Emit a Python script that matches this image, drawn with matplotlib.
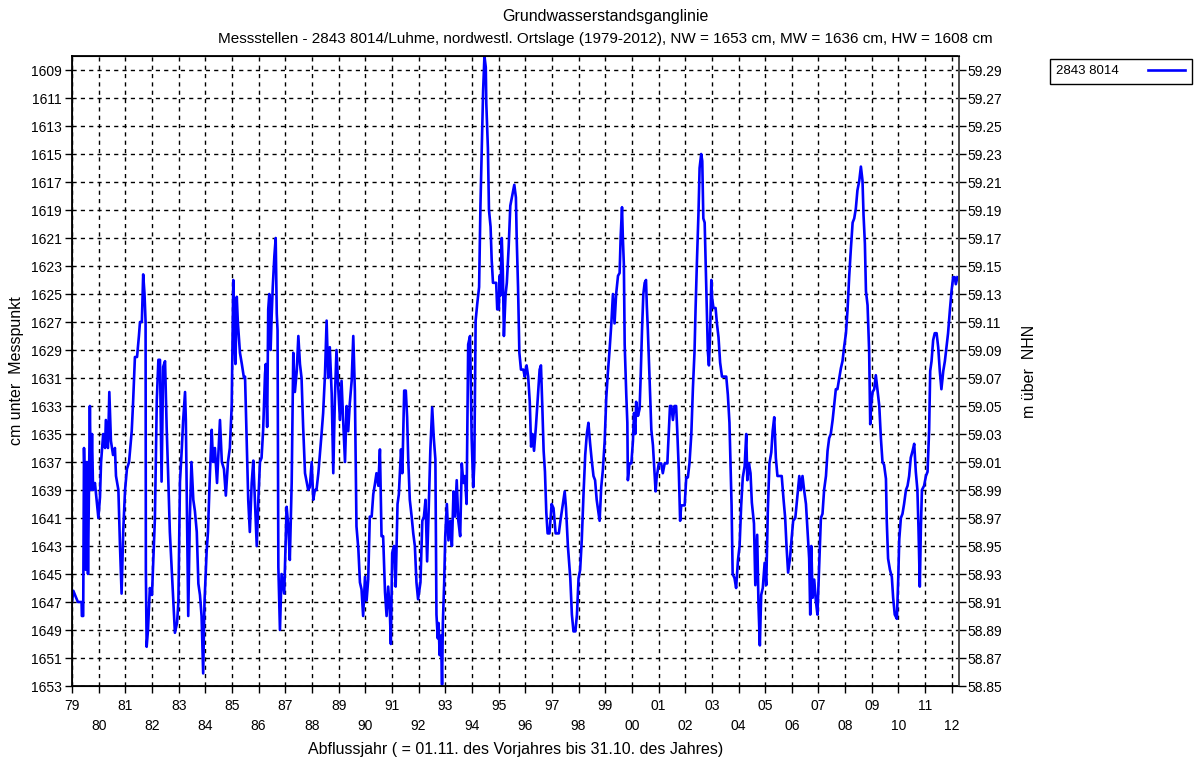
import matplotlib
matplotlib.use("Agg")
import matplotlib.pyplot as plt
import numpy as np

plt.rcParams['font.family'] = ['Liberation Sans', 'DejaVu Sans']
plt.rcParams['font.size'] = 10

# Abflussjahr (Dezimaljahr) und Wasserstand in cm unter Messpunkt
jahr = [
    1979.00, 1979.05, 1979.22, 1979.36, 1979.37, 1979.42, 1979.45, 1979.49, 1979.52, 1979.56,
    1979.60, 1979.64, 1979.67, 1979.71, 1979.75, 1979.79, 1979.86, 1979.94, 1979.99, 1980.05,
    1980.09, 1980.17, 1980.24, 1980.27, 1980.35, 1980.40, 1980.46, 1980.54, 1980.61, 1980.65,
    1980.74, 1980.80, 1980.86, 1980.92, 1980.99, 1981.06, 1981.14, 1981.24, 1981.29, 1981.36,
    1981.44, 1981.51, 1981.55, 1981.62, 1981.67, 1981.72, 1981.76, 1981.77, 1981.80, 1981.85,
    1981.92, 1982.00, 1982.11, 1982.18, 1982.24, 1982.30, 1982.36, 1982.42, 1982.49, 1982.55,
    1982.60, 1982.67, 1982.75, 1982.80, 1982.86, 1982.94, 1982.99, 1983.05, 1983.12, 1983.17,
    1983.24, 1983.27, 1983.36, 1983.42, 1983.48, 1983.55, 1983.61, 1983.68, 1983.74, 1983.80,
    1983.86, 1983.92, 1983.97, 1984.05, 1984.10, 1984.17, 1984.24, 1984.29, 1984.36, 1984.44,
    1984.55, 1984.62, 1984.70, 1984.77, 1984.85, 1984.92, 1984.99, 1985.05, 1985.09, 1985.13,
    1985.18, 1985.22, 1985.30, 1985.37, 1985.45, 1985.49, 1985.61, 1985.67, 1985.74, 1985.80,
    1985.86, 1985.93, 1985.99, 1986.05, 1986.11, 1986.17, 1986.24, 1986.27, 1986.32, 1986.36,
    1986.40, 1986.45, 1986.49, 1986.53, 1986.59, 1986.64, 1986.68, 1986.71, 1986.74, 1986.80,
    1986.86, 1986.96, 1987.05, 1987.11, 1987.17, 1987.24, 1987.30, 1987.36, 1987.43, 1987.49,
    1987.55, 1987.61, 1987.67, 1987.74, 1987.86, 1987.92, 1987.99, 1988.05, 1988.11, 1988.17,
    1988.24, 1988.30, 1988.36, 1988.42, 1988.49, 1988.55, 1988.61, 1988.67, 1988.74, 1988.80,
    1988.86, 1988.92, 1988.99, 1989.05, 1989.11, 1989.17, 1989.24, 1989.30, 1989.36, 1989.42,
    1989.49, 1989.55, 1989.61, 1989.67, 1989.74, 1989.80, 1989.86, 1989.92, 1989.99, 1990.05,
    1990.11, 1990.17, 1990.24, 1990.30, 1990.36, 1990.42, 1990.49, 1990.55, 1990.61, 1990.67,
    1990.74, 1990.80, 1990.86, 1990.92, 1990.96, 1991.01, 1991.08, 1991.14, 1991.21, 1991.26,
    1991.34, 1991.39, 1991.46, 1991.52, 1991.57, 1991.61, 1991.67, 1991.74, 1991.80, 1991.86,
    1991.92, 1991.98, 1992.07, 1992.14, 1992.20, 1992.26, 1992.32, 1992.38, 1992.44, 1992.51,
    1992.57, 1992.63, 1992.67, 1992.72, 1992.75, 1992.79, 1992.84, 1992.88, 1992.91, 1992.96,
    1993.00, 1993.06, 1993.12, 1993.19, 1993.25, 1993.31, 1993.37, 1993.43, 1993.49, 1993.56,
    1993.62, 1993.68, 1993.74, 1993.80, 1993.86, 1993.93, 1993.99, 1994.05, 1994.09, 1994.14,
    1994.20, 1994.27, 1994.32, 1994.37, 1994.42, 1994.47, 1994.52, 1994.54, 1994.60, 1994.64,
    1994.70, 1994.74, 1994.79, 1994.91, 1994.95, 1995.01, 1995.04, 1995.07, 1995.12, 1995.16,
    1995.20, 1995.26, 1995.31, 1995.38, 1995.44, 1995.51, 1995.59, 1995.65, 1995.68, 1995.73,
    1995.78, 1995.84, 1995.93, 1995.98, 1996.05, 1996.11, 1996.17, 1996.22, 1996.27, 1996.33,
    1996.40, 1996.47, 1996.54, 1996.59, 1996.64, 1996.69, 1996.74, 1996.79, 1996.84, 1996.91,
    1996.99, 1997.06, 1997.14, 1997.26, 1997.32, 1997.41, 1997.48, 1997.53, 1997.60, 1997.69,
    1997.75, 1997.81, 1997.88, 1997.94, 1998.00, 1998.06, 1998.12, 1998.19, 1998.25, 1998.31,
    1998.37, 1998.43, 1998.49, 1998.56, 1998.62, 1998.68, 1998.79, 1998.85, 1998.91, 1998.98,
    1999.04, 1999.10, 1999.16, 1999.23, 1999.29, 1999.35, 1999.41, 1999.48, 1999.54, 1999.58,
    1999.63, 1999.66, 1999.70, 1999.73, 1999.79, 1999.83, 1999.85, 1999.91, 1999.98, 2000.04,
    2000.08, 2000.13, 2000.16, 2000.23, 2000.29, 2000.33, 2000.38, 2000.43, 2000.48, 2000.53,
    2000.56, 2000.60, 2000.66, 2000.73, 2000.79, 2000.85, 2000.89, 2000.93, 2001.01, 2001.10,
    2001.16, 2001.23, 2001.33, 2001.38, 2001.43, 2001.48, 2001.54, 2001.60, 2001.66, 2001.70,
    2001.76, 2001.81, 2001.85, 2001.98, 2002.04, 2002.10, 2002.16, 2002.23, 2002.29, 2002.35,
    2002.39, 2002.44, 2002.50, 2002.54, 2002.60, 2002.64, 2002.68, 2002.73, 2002.76, 2002.80,
    2002.85, 2002.89, 2002.93, 2002.98, 2003.01, 2003.06, 2003.14, 2003.19, 2003.25, 2003.31,
    2003.38, 2003.54, 2003.60, 2003.66, 2003.70, 2003.74, 2003.78, 2003.85, 2003.91, 2003.98,
    2004.04, 2004.10, 2004.16, 2004.23, 2004.29, 2004.33, 2004.39, 2004.45, 2004.50, 2004.58,
    2004.63, 2004.70, 2004.75, 2004.80, 2004.85, 2004.91, 2004.98, 2005.04, 2005.10, 2005.16,
    2005.23, 2005.28, 2005.34, 2005.40, 2005.46, 2005.62, 2005.69, 2005.75, 2005.80, 2005.86,
    2005.93, 2005.99, 2006.05, 2006.13, 2006.18, 2006.23, 2006.28, 2006.34, 2006.40, 2006.46,
    2006.53, 2006.59, 2006.65, 2006.69, 2006.73, 2006.78, 2006.84, 2006.90, 2006.96, 2007.03,
    2007.09, 2007.15, 2007.21, 2007.28, 2007.34, 2007.40, 2007.46, 2007.53, 2007.59, 2007.65,
    2007.71, 2007.78, 2007.84, 2007.90, 2007.96, 2008.03, 2008.09, 2008.15, 2008.21, 2008.28,
    2008.34, 2008.40, 2008.46, 2008.53, 2008.59, 2008.65, 2008.69, 2008.74, 2008.78, 2008.84,
    2008.90, 2008.94, 2008.98, 2009.03, 2009.09, 2009.15, 2009.21, 2009.28, 2009.34, 2009.40,
    2009.46, 2009.53, 2009.56, 2009.61, 2009.68, 2009.75, 2009.80, 2009.86, 2009.94, 2009.99,
    2010.03, 2010.09, 2010.15, 2010.21, 2010.28, 2010.34, 2010.40, 2010.46, 2010.53, 2010.59,
    2010.65, 2010.71, 2010.75, 2010.80, 2010.84, 2010.88, 2010.96, 2011.03, 2011.09, 2011.15,
    2011.19, 2011.24, 2011.30, 2011.36, 2011.43, 2011.49, 2011.55, 2011.61, 2011.68, 2011.74,
    2011.80, 2011.86, 2011.93, 2011.99, 2012.05, 2012.11, 2012.15, 2012.21,
]

wasserstand_cm = [
    1647.0, 1646.2, 1647.0, 1647.0, 1648.0, 1648.0, 1636.0, 1640.0, 1644.7, 1637.0,
    1645.0, 1638.0, 1633.0, 1639.0, 1635.0, 1639.0, 1638.5, 1640.0, 1641.0, 1639.5,
    1637.0, 1635.0, 1636.0, 1634.0, 1636.0, 1632.0, 1635.5, 1636.5, 1636.0, 1638.0,
    1639.0, 1643.0, 1646.4, 1642.0, 1639.0, 1637.5, 1637.0, 1634.8, 1632.8, 1629.5,
    1629.5, 1628.0, 1627.0, 1627.0, 1623.6, 1625.0, 1627.0, 1644.7, 1650.2, 1649.0,
    1646.0, 1646.5, 1641.0, 1632.6, 1629.7, 1629.7, 1638.4, 1630.2, 1629.8, 1634.5,
    1637.5, 1642.0, 1645.0, 1647.0, 1649.2, 1648.5, 1647.0, 1638.4, 1636.0, 1634.0,
    1632.0, 1634.0, 1648.0, 1641.0, 1637.0, 1639.7, 1640.5, 1642.0, 1645.7, 1646.5,
    1648.0, 1652.1, 1647.0, 1643.4, 1642.0, 1638.0, 1634.7, 1637.0, 1636.0, 1638.5,
    1634.0, 1637.0, 1637.5, 1639.4, 1637.0, 1636.0, 1633.0, 1624.0, 1628.0, 1630.0,
    1625.2, 1627.0, 1629.2, 1630.0, 1631.0, 1630.9, 1639.7, 1642.0, 1638.5, 1636.9,
    1639.7, 1643.0, 1639.7, 1637.0, 1636.7, 1634.7, 1630.7, 1630.0, 1634.5, 1626.1,
    1625.0, 1629.0, 1626.5, 1624.5, 1622.3, 1621.0, 1626.4, 1627.6, 1644.5, 1649.0,
    1645.0, 1646.4, 1640.2, 1641.5, 1644.0, 1638.5, 1629.2, 1632.0, 1630.5, 1628.0,
    1630.0, 1631.0, 1634.5, 1637.8, 1639.0, 1638.8, 1637.0, 1639.7, 1639.0, 1639.0,
    1637.8, 1636.4, 1635.0, 1633.5, 1630.7, 1626.9, 1631.0, 1628.8, 1632.1, 1637.8,
    1632.5, 1629.0, 1631.8, 1634.0, 1631.2, 1634.0, 1637.0, 1633.0, 1634.8, 1632.8,
    1631.2, 1628.0, 1631.9, 1641.6, 1643.2, 1645.6, 1646.1, 1648.0, 1645.2, 1646.9,
    1645.4, 1640.9, 1640.9, 1639.3, 1638.6, 1637.8, 1638.7, 1636.1, 1642.3, 1642.3,
    1646.3, 1648.0, 1645.9, 1647.6, 1650.0, 1643.5, 1643.0, 1645.9, 1640.0, 1639.3,
    1636.1, 1637.8, 1631.9, 1631.9, 1633.8, 1636.7, 1639.7, 1640.9, 1642.1, 1643.0,
    1645.6, 1646.8, 1645.6, 1641.2, 1640.9, 1639.7, 1644.1, 1640.3, 1636.2, 1633.1,
    1635.3, 1636.8, 1647.9, 1649.6, 1648.5, 1650.8, 1649.4, 1652.9, 1648.5, 1645.6,
    1642.3, 1640.0, 1642.6, 1641.2, 1643.0, 1639.1, 1640.9, 1638.3, 1641.2, 1642.3,
    1637.1, 1638.5, 1638.0, 1640.0, 1628.6, 1628.0, 1635.3, 1638.8, 1637.1, 1626.9,
    1625.7, 1624.5, 1618.7, 1614.6, 1610.5, 1608.0, 1608.8, 1611.4, 1614.6, 1619.0,
    1620.2, 1622.5, 1624.2, 1624.2, 1626.1, 1626.1, 1623.7, 1625.1, 1621.0, 1623.4,
    1628.0, 1625.1, 1624.2, 1621.6, 1618.7, 1618.0, 1617.2, 1618.1, 1621.0, 1624.5,
    1629.2, 1630.4, 1630.4, 1630.9, 1630.1, 1630.9, 1632.7, 1635.9, 1635.0, 1636.2,
    1634.5, 1632.4, 1630.4, 1630.1, 1633.0, 1636.2, 1637.7, 1640.6, 1642.1, 1642.1,
    1640.0, 1640.3, 1642.1, 1642.1, 1641.2, 1640.0, 1639.1, 1640.3, 1643.0, 1645.3,
    1647.9, 1649.1, 1649.1, 1647.9, 1645.3, 1644.7, 1642.6, 1639.1, 1636.5, 1635.0,
    1634.2, 1635.6, 1636.8, 1638.0, 1638.3, 1639.7, 1641.2, 1638.8, 1637.6, 1635.5,
    1632.4, 1630.6, 1629.1, 1627.1, 1625.0, 1627.1, 1625.0, 1623.7, 1623.5, 1620.9,
    1618.8, 1620.9, 1622.9, 1628.6, 1632.2, 1634.2, 1638.3, 1637.1, 1637.1, 1635.5,
    1633.5, 1635.0, 1632.7, 1633.7, 1633.2, 1630.9, 1627.6, 1625.0, 1624.2, 1624.0,
    1625.8, 1627.6, 1630.9, 1634.7, 1635.8, 1637.8, 1639.1, 1638.1, 1637.1, 1637.1,
    1637.8, 1637.1, 1637.1, 1635.0, 1633.0, 1633.0, 1634.0, 1633.0, 1633.0, 1634.7,
    1637.6, 1641.2, 1640.1, 1640.1, 1638.1, 1638.1, 1637.1, 1635.0, 1631.7, 1629.1,
    1626.0, 1622.7, 1619.1, 1616.0, 1615.0, 1615.5, 1619.6, 1619.9, 1622.2, 1625.3,
    1629.1, 1630.1, 1628.1, 1624.0, 1625.3, 1626.0, 1626.0, 1627.1, 1628.1, 1629.9,
    1630.9, 1630.9, 1632.2, 1634.2, 1637.1, 1640.1, 1645.0, 1645.3, 1646.0, 1644.0,
    1643.0, 1640.1, 1638.1, 1637.3, 1635.0, 1638.3, 1637.1, 1637.8, 1639.9, 1641.4,
    1645.8, 1642.2, 1647.3, 1650.1, 1646.5, 1646.0, 1644.2, 1645.8, 1640.4, 1637.1,
    1636.3, 1634.8, 1633.8, 1636.7, 1638.0, 1638.0, 1639.7, 1641.0, 1643.0, 1644.9,
    1643.9, 1642.5, 1641.2, 1641.0, 1640.0, 1639.0, 1638.0, 1639.0, 1638.0, 1639.0,
    1640.0, 1642.0, 1643.9, 1647.9, 1643.0, 1646.7, 1645.4, 1646.9, 1647.9, 1644.2,
    1641.0, 1640.7, 1639.0, 1638.0, 1636.2, 1635.3, 1635.0, 1634.0, 1632.9, 1631.8,
    1631.8, 1631.0, 1630.3, 1629.8, 1628.8, 1627.8, 1626.1, 1623.8, 1621.9, 1619.9,
    1619.6, 1618.9, 1617.6, 1616.9, 1615.9, 1616.9, 1619.4, 1621.4, 1624.8, 1625.8,
    1629.1, 1634.3, 1632.8, 1632.0, 1631.8, 1630.8, 1631.8, 1633.0, 1635.3, 1637.0,
    1637.2, 1638.2, 1641.2, 1643.9, 1644.7, 1645.2, 1646.7, 1647.9, 1648.2, 1645.4,
    1642.5, 1641.0, 1640.7, 1640.0, 1639.0, 1638.7, 1638.0, 1636.7, 1636.2, 1635.7,
    1637.7, 1639.0, 1641.7, 1645.9, 1641.7, 1639.0, 1638.7, 1638.0, 1637.7, 1634.7,
    1630.5, 1629.8, 1628.3, 1627.8, 1627.8, 1628.8, 1630.5, 1631.8, 1630.5, 1629.8,
    1628.8, 1627.8, 1626.1, 1624.8, 1623.8, 1623.8, 1624.3, 1623.8,
]

jahre_ungerade = list(range(1979, 2013, 2))
jahre_gerade = list(range(1980, 2013, 2))
cm_ticks = list(range(1609, 1654, 2))
messpunkt_m = 75.38  # Hoehe Messpunkt in m ueber NHN

fig = plt.figure(figsize=(11.94, 7.62), dpi=100)
ax = fig.add_axes([72 / 1194, 76 / 762, 887 / 1194, 630 / 762])

ax.plot(jahr, wasserstand_cm, color='#0000ff', lw=1.9, label='2843 8014')

ax.set_xlim(1979, 2012.27)
ax.set_ylim(1653, 1608)

# ungerade Jahre oben, gerade Jahre in zweiter Zeile
ax.set_xticks(jahre_ungerade)
ax.set_xticklabels(["%02d" % (j % 100) for j in jahre_ungerade])
ax.set_xticks(jahre_gerade, minor=True)
ax.set_xticklabels(["%02d" % (j % 100) for j in jahre_gerade], minor=True)
ax.set_yticks(cm_ticks)
ax.set_yticklabels([str(v) for v in cm_ticks])
ax.tick_params(axis='both', which='major', direction='out', length=5, width=1, pad=2.5, labelsize=10)
ax.tick_params(axis='x', which='major', pad=4.5)
ax.tick_params(axis='x', which='minor', direction='out', length=5, width=1, pad=18.5, labelsize=10)

ax.grid(True, which='both', axis='x', color='black', linestyle=(0, (3, 3)), linewidth=1)
ax.grid(True, which='major', axis='y', color='black', linestyle=(0, (3, 3)), linewidth=1)
for s in ax.spines.values():
    s.set_linewidth(1.3)
    s.set_color('black')

ax.set_ylabel('cm unter  Messpunkt', fontsize=11.5, labelpad=5)
ax.set_xlabel('Abflussjahr ( = 01.11. des Vorjahres bis 31.10. des Jahres)', fontsize=11.5, labelpad=7)

ax2 = ax.twinx()
ax2.set_ylim(ax.get_ylim())
ax2.set_yticks(cm_ticks)
ax2.set_yticklabels(["%.2f" % (messpunkt_m - v / 100) for v in cm_ticks])
ax2.tick_params(direction='out', length=5, width=1, pad=1, labelsize=10)
ax2.spines['right'].set_color('#555555')
ax2.spines['right'].set_linewidth(1.3)
ax2.set_ylabel('m über  NHN', fontsize=11.5, labelpad=14)

fig.text(0.507, 1 - 17 / 762, 'Grundwasserstandsganglinie', ha='center', va='center', fontsize=11.5)
fig.text(0.507, 1 - 39 / 762,
         'Messstellen - 2843 8014/Luhme, nordwestl. Ortslage (1979-2012), NW = 1653 cm, MW = 1636 cm, HW = 1608 cm',
         ha='center', va='center', fontsize=11)

leg = fig.legend(loc='upper left', bbox_to_anchor=(1043 / 1194, 1 - 52 / 762),
                 markerfirst=False, fancybox=False, edgecolor='black', framealpha=1,
                 handlelength=2.8, fontsize=9.5, borderpad=0.5, handletextpad=2.2)
leg.get_frame().set_linewidth(1)

fig.savefig("out.png", dpi=100)
